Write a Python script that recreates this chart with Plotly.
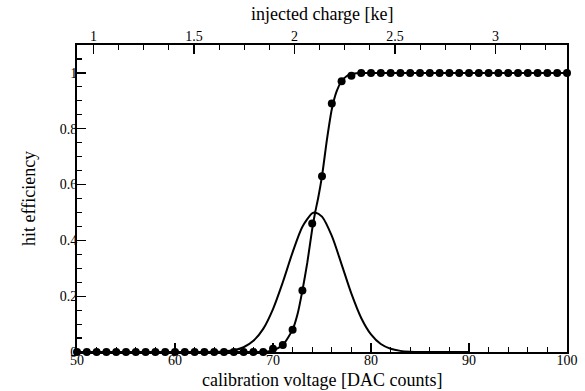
import plotly.graph_objects as go

# measured data points (calibration voltage in DAC counts, hit efficiency)
dac_points = list(range(50, 101))
eff_points = ([0.0] * 20 +
              [0.012, 0.025, 0.08, 0.22, 0.46, 0.63, 0.89, 0.97, 0.99] +
              [1.0] * 22)

# fitted S-curve
fit_x = [50, 60, 68, 69, 70, 71, 72, 72.5, 73, 73.5, 74, 74.3, 74.6, 75, 75.5,
         76, 76.5, 77, 77.5, 78, 78.5, 79, 80, 90, 100]
fit_y = [0.0, 0.0, 0.0, 0.001, 0.005, 0.025, 0.08, 0.135, 0.22, 0.32, 0.44, 0.50,
         0.55, 0.63, 0.76, 0.87, 0.935, 0.97, 0.988, 0.996, 0.999, 1.0, 1.0, 1.0, 1.0]

# noise gaussian
gauss_x = [58, 62, 63, 64, 65, 66, 67, 68, 69, 70, 71, 72, 73, 74, 74.3, 75, 76,
           77, 78, 79, 80, 81, 82, 83, 84, 85, 90]
gauss_y = [0.0, 0.0, 0.0002, 0.0006, 0.002, 0.006, 0.017, 0.040, 0.083, 0.154,
           0.25, 0.357, 0.449, 0.497, 0.50, 0.485, 0.416, 0.314, 0.209, 0.122,
           0.063, 0.0285, 0.0114, 0.004, 0.0012, 0.0003, 0.0]

x_ticks = [50, 60, 70, 80, 90, 100]
y_ticks = [0, 0.2, 0.4, 0.6, 0.8, 1]
y_tick_text = ["0", "0.2", "0.4", "0.6", "0.8", "1"]
ke_ticks = [1, 1.5, 2, 2.5, 3]
ke_tick_text = ["1", "1.5", "2", "2.5", "3"]
ke_range = [0.918, 3.356]

x_title = "calibration voltage [DAC counts]"
x2_title = "injected charge [ke]"
y_title = "hit efficiency"

FONT = "Liberation Serif, Times New Roman, serif"

fig = go.Figure()
fig.add_trace(go.Scatter(x=gauss_x, y=gauss_y, mode="lines",
                         line=dict(color="black", width=2, shape="spline", smoothing=0.8),
                         hoverinfo="skip", showlegend=False))
fig.add_trace(go.Scatter(x=fit_x, y=fit_y, mode="lines",
                         line=dict(color="black", width=2, shape="spline", smoothing=0.6),
                         hoverinfo="skip", showlegend=False))
fig.add_trace(go.Scatter(x=dac_points, y=eff_points, mode="markers",
                         marker=dict(color="black", size=8),
                         showlegend=False, cliponaxis=False, hoverinfo="skip"))
# invisible trace to activate the top axis
fig.add_trace(go.Scatter(x=ke_range, y=[None, None], xaxis="x2", mode="markers",
                         marker=dict(opacity=0), showlegend=False, hoverinfo="skip"))

common = dict(showgrid=False, zeroline=False, showline=True, linecolor="black",
              linewidth=2, ticks="inside", ticklen=9, tickwidth=1.3, tickcolor="black",
              automargin=False, tickfont=dict(size=14, color="black"))

fig.update_layout(
    width=585, height=391,
    margin=dict(l=77, r=18, t=45, b=39),
    paper_bgcolor="white", plot_bgcolor="white",
    font=dict(family=FONT, color="black", size=14),
    hovermode=False,
    xaxis=dict(range=[50, 100], tickvals=x_ticks, ticktext=[str(v) for v in x_ticks],
               mirror=False, ticklabelstandoff=-6,
               minor=dict(dtick=2, ticks="inside", ticklen=5, tickwidth=1.1,
                          tickcolor="black", showgrid=False),
               **common),
    xaxis2=dict(overlaying="x", side="top", range=ke_range, tickvals=ke_ticks,
                ticktext=ke_tick_text, ticklabelstandoff=-4,
                minor=dict(dtick=0.125, ticks="inside", ticklen=5, tickwidth=1.1,
                           tickcolor="black", showgrid=False),
                **common),
    yaxis=dict(range=[0, 1.1], tickvals=y_ticks, ticktext=y_tick_text, mirror=True,
               ticklabelstandoff=-5,
               minor=dict(dtick=0.05, ticks="inside", ticklen=5, tickwidth=1.1,
                          tickcolor="black", showgrid=False),
               **common),
    annotations=[
        dict(text=x_title, xref="paper", yref="paper", x=0.5, y=-0.0912,
             xanchor="center", yanchor="middle", showarrow=False, font=dict(size=18)),
        dict(text=x2_title, xref="paper", yref="paper", x=0.5, y=1.101,
             xanchor="center", yanchor="middle", showarrow=False, font=dict(size=18)),
        dict(text=y_title, xref="paper", yref="paper", x=-(77 - 28.5) / 490, y=0.5,
             xanchor="center", yanchor="middle", showarrow=False, textangle=-90,
             font=dict(size=18)),
    ],
)

# remove the default page margin so the figure fills the window exactly
fig.write_html("out.html", config={"displayModeBar": False, "staticPlot": True},
               post_script="document.body.style.margin='0px';")
